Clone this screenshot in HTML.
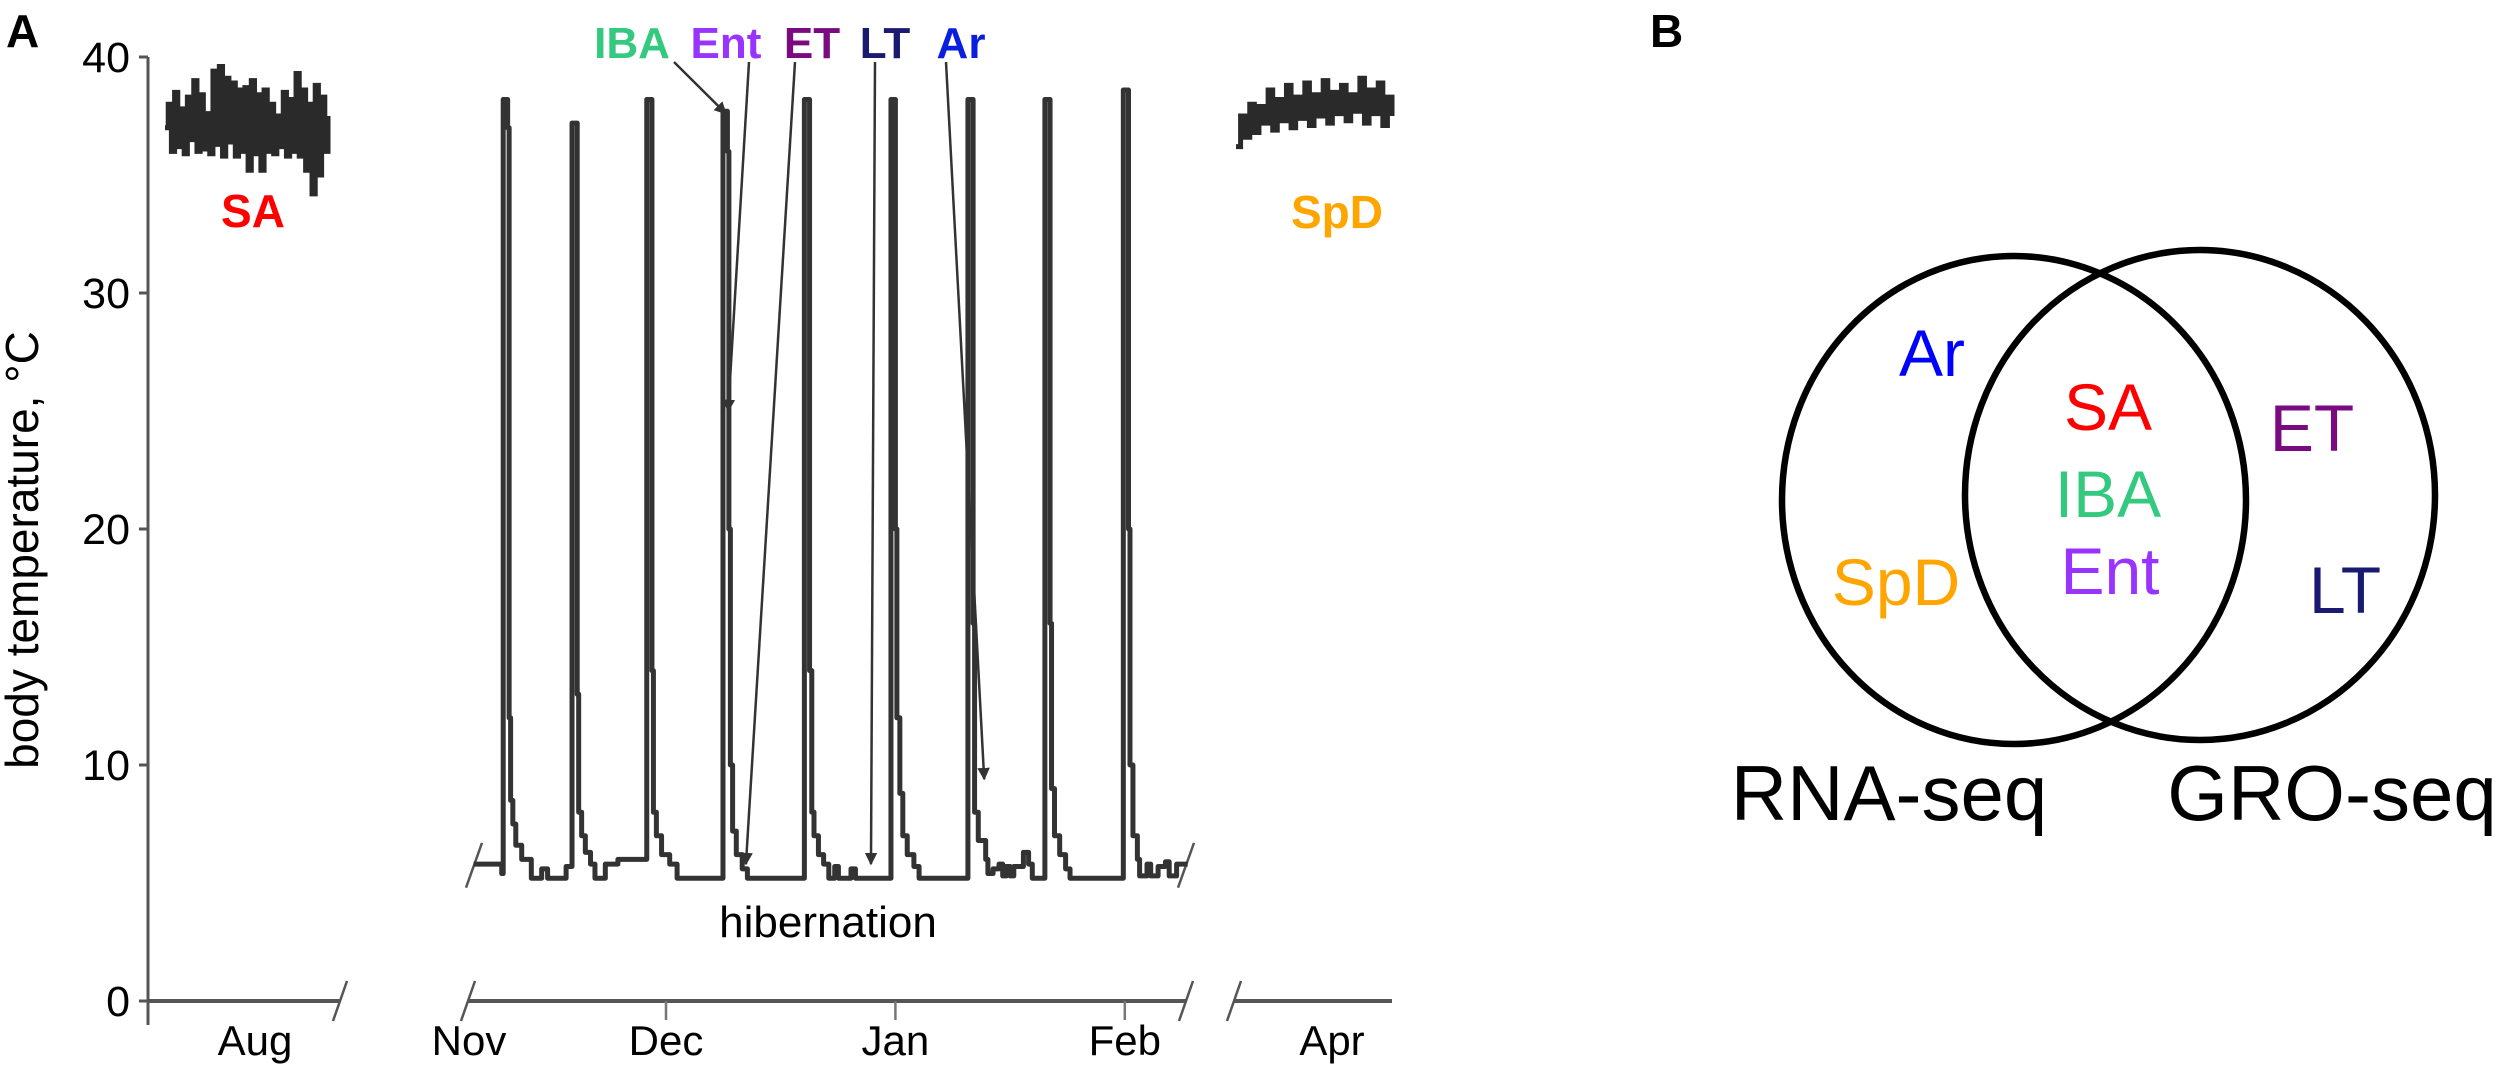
<!DOCTYPE html>
<html><head><meta charset="utf-8"><style>
html,body{margin:0;padding:0;background:#fff;}
svg{display:block;font-family:"Liberation Sans",Arial,sans-serif;}
</style></head><body>
<svg id="fig" width="2500" height="1073" viewBox="0 0 2500 1073" xmlns="http://www.w3.org/2000/svg">
<defs><marker id="ah" viewBox="0 0 10 10" refX="9" refY="5" markerWidth="5" markerHeight="7" orient="auto" markerUnits="strokeWidth"><path d="M0,0 L10,5 L0,10 z" fill="#333"/></marker></defs>
<text x="6" y="47" font-size="46" font-weight="bold">A</text>
<text x="1650" y="47" font-size="46" font-weight="bold">B</text>
<g id="chart"></g>
<g id="venn">
<ellipse cx="2014" cy="500" rx="232" ry="244" fill="none" stroke="#000" stroke-width="6.5"/>
<ellipse cx="2200" cy="495" rx="235" ry="245" fill="none" stroke="#000" stroke-width="6.5"/>
<g font-size="66" text-anchor="middle">
<text x="1932" y="376" fill="#0000ff">Ar</text>
<text x="2108" y="430" fill="#ff0000">SA</text>
<text x="2108" y="517" fill="#33c97f">IBA</text>
<text x="2110" y="594" fill="#9933ff">Ent</text>
<text x="2312" y="451" fill="#7a0a80">ET</text>
<text x="1896" y="605" fill="#ffa500">SpD</text>
<text x="2345" y="613" fill="#1a1a70">LT</text>
</g>
<text x="1889" y="820" font-size="78" text-anchor="middle">RNA-seq</text>
<text x="2332" y="820" font-size="78" text-anchor="middle">GRO-seq</text>
</g>
</svg>
<script>
// ---- data ----
const yTicks = [0, 10, 20, 30, 40];
const monthLabels = ["Nov", "Dec", "Jan", "Feb"];
const monthDays = [0, 30, 61, 92];
const augTemps = [37.0,38.0,36.0,38.5,36.2,37.8,35.9,38.3,36.5,39.0,36.0,38.4,36.1,37.6,35.9,39.4,36.3,39.6,35.8,39.1,36.4,38.9,35.8,38.6,36.0,38.7,35.2,39.0,35.9,38.4,35.2,38.6,36.0,38.0,35.9,37.5,36.2,38.5,35.8,38.2,36.0,39.3,35.8,38.6,35.2,38.0,34.2,38.8,35.0,38.3,36.0,37.5];
const aprTemps = [36.2,37.5,36.6,38.0,36.8,37.9,37.2,38.6,36.9,38.2,37.3,38.8,37.0,38.3,37.4,38.9,37.1,38.4,37.5,39.0,37.2,38.5,37.6,38.8,37.3,38.4,37.7,39.1,37.2,38.6,37.6,38.9,37.1,38.3,37.5];
const hibDays = [4.0,7.8,7.8,8.0,8.0,8.5,8.6,8.8,9.0,9.3,9.7,10.5,11.8,11.8,13.2,13.2,14.0,14.0,16.5,16.5,17.3,
17.3,17.8,18.0,18.2,18.6,19.1,19.8,20.4,21.8,21.8,22.8,23.5,27.3,
27.4,27.9,28.1,28.3,28.7,29.4,30.5,31.5,31.5,37.5,
37.7,38.2,38.3,38.5,38.7,39.0,39.5,40.3,41.0,48.6,
48.7,49.2,49.4,49.7,50.0,50.6,51.3,52.0,52.8,52.8,53.3,53.3,55.0,55.0,55.6,55.6,60.2,
60.4,60.9,61.0,61.2,61.6,62.0,62.6,63.5,64.2,70.6,
70.8,71.3,71.5,71.7,72.2,73.2,73.5,73.5,74.2,75.0,75.5,76.0,76.5,77.0,77.7,78.3,79.0,79.5,81.0,
81.2,81.7,81.9,82.1,82.5,83.2,84.0,84.6,91.6,
91.8,92.3,92.5,92.7,93.1,93.7,94.0,95.0,95.5,96.5,97.5,98.0,99.0,100.5];
const hibTemps = [5.8,5.8,5.4,5.4,38.2,38.2,37,12,8.5,7.5,6.6,6.0,5.8,5.2,5.2,5.6,5.6,5.2,5.2,5.7,5.7,
37.2,37.2,13,8,7,6.3,5.8,5.2,5.2,5.8,5.8,6.0,6.0,
38.2,38.2,14,8,7,6.2,5.8,5.8,5.2,5.2,
37.7,37.7,36,20,10,7.2,6.2,5.6,5.2,5.2,
38.2,38.2,14,8,7,6.2,5.8,5.2,5.2,5.7,5.7,5.2,5.2,5.6,5.6,5.2,5.2,
38.2,38.2,20,12,8.8,7.0,6.2,5.7,5.2,5.2,
38.2,38.2,16,8,6.8,6.0,6.0,5.4,5.6,5.8,5.3,5.7,5.3,5.7,5.7,6.3,5.8,5.2,5.2,
38.2,38.2,16,9,7,6.2,5.6,5.2,5.2,
38.6,38.6,20,10,7,6,5.3,5.8,5.3,5.7,5.9,5.3,5.8,5.8];
const topLabels = ["IBA", "Ent", "ET", "LT", "Ar"];
const arrowDays = [38.1, 38.4, 40.8, 57.7, 73.0];
const arrowTemps = [37.6, 25.0, 5.8, 5.8, 9.4];

// ---- scales ----
const y = v => 1001 - 23.6 * v;
const xh = d => 666 + (d - 30) * 7.4;
const xa = i => 165 + i * (328 - 165) / (augTemps.length - 1);
const xp = i => 1236 + i * (1392 - 1236) / (aprTemps.length - 1);

const NS = "http://www.w3.org/2000/svg";
const g = document.getElementById("chart");
function mk(tag, attrs, parent) {
  const e = document.createElementNS(NS, tag);
  for (const k in attrs) e.setAttribute(k, attrs[k]);
  (parent || g).appendChild(e);
  return e;
}
function stepPath(xs, vs) {
  let d = "M" + xs[0] + "," + y(vs[0]);
  for (let i = 1; i < vs.length; i++) d += "H" + xs[i] + "V" + y(vs[i]);
  return d;
}

// y axis
let el = mk("line", {x1:148, y1:y(40), x2:148, y2:1025, stroke:"#555", "stroke-width":3});


yTicks.forEach(t => {
  const tk = mk("line", {x1:139, y1:y(t), x2:148, y2:y(t), stroke:"#555", "stroke-width":3});
  
  
  const tl = mk("text", {x:130, y:y(t) + 15, "font-size":43, "text-anchor":"end"});
  tl.textContent = t;
  
  
});
el = mk("text", {x:0, y:0, "font-size":46, "text-anchor":"middle", transform:"translate(38,550) rotate(-90)"});
el.textContent = "body temperature, °C";



// x axis segments
const segs = [[148,340],[468,1186],[1234,1392]];
segs.forEach(s => {
  const l = mk("line", {x1:s[0], y1:1001, x2:s[1], y2:1001, stroke:"#555", "stroke-width":4});
  
  
});
[340, 468, 1186, 1234].forEach(sx => {
  const l = mk("line", {x1:sx-7, y1:1021, x2:sx+7, y2:981, stroke:"#555", "stroke-width":2.5});
  
  
});
[474, 1186].forEach(sx => {
  const l = mk("line", {x1:sx-8, y1:y(4.8), x2:sx+8, y2:y(6.7), stroke:"#555", "stroke-width":2.5});
  
  
});
monthLabels.forEach((m, i) => {
  const x = xh(monthDays[i]);
  if (i > 0) {
    const tk = mk("line", {x1:x, y1:1001, x2:x, y2:1020, stroke:"#777", "stroke-width":2.5});
    
    
  }
  const t = mk("text", {x: i === 0 ? 469 : x, y:1055, "font-size":42, "text-anchor":"middle"});
  t.textContent = m;
  
  
});
el = mk("text", {x:255, y:1055, "font-size":42, "text-anchor":"middle"});
el.textContent = "Aug";


el = mk("text", {x:1332, y:1055, "font-size":42, "text-anchor":"middle"});
el.textContent = "Apr";



// traces
el = mk("path", {d: stepPath(augTemps.map((v,i)=>xa(i)), augTemps), fill:"none", stroke:"#2a2a2a", "stroke-width":5});


el = mk("path", {d: stepPath(aprTemps.map((v,i)=>xp(i)), aprTemps), fill:"none", stroke:"#2a2a2a", "stroke-width":5});


el = mk("path", {d: stepPath(hibDays.map(xh), hibTemps), fill:"none", stroke:"#333", "stroke-width":5, "stroke-linejoin":"round"});



// labels
el = mk("text", {x:253, y:227, "font-size":46, "font-weight":"bold", fill:"#ff0000", "text-anchor":"middle"});
el.textContent = "SA";


el = mk("text", {x:1337, y:228, "font-size":46, "font-weight":"bold", fill:"#ffa500", "text-anchor":"middle"});
el.textContent = "SpD";


el = mk("text", {x:828, y:937, "font-size":44, "text-anchor":"middle"});
el.textContent = "hibernation";



const topX = [632, 726, 812, 885, 961];
const topC = ["#33c97f", "#9933ff", "#7a0a80", "#1a1a70", "#0a1ee0"];
const startX = [674, 749, 795, 875, 946];
topLabels.forEach((lab, i) => {
  const t = mk("text", {x:topX[i], y:58, "font-size":44, "font-weight":"bold", fill:topC[i], "text-anchor":"middle"});
  t.textContent = lab;
  
  
  const a = mk("line", {x1:startX[i], y1:62, x2:xh(arrowDays[i]), y2:y(arrowTemps[i]), stroke:"#333", "stroke-width":2.5, "marker-end":"url(#ah)"});
  
  
});
</script>
</body></html>
